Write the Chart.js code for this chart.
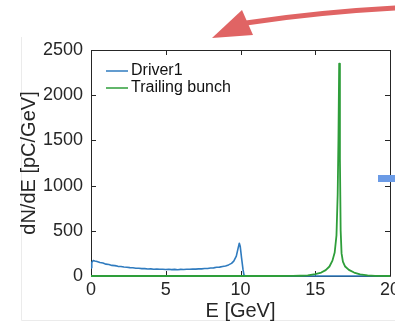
<!DOCTYPE html>
<html>
<head>
<meta charset="utf-8">
<script src="https://cdn.jsdelivr.net/npm/chart.js@4.4.1/dist/chart.umd.min.js"></script>
<style>
  html, body { margin: 0; padding: 0; background: #fff; }
  #wrap { width: 395px; height: 324px; }
</style>
</head>
<body>
<div id="wrap"><canvas id="spectrum" width="395" height="324"></canvas></div>
<script>
// Energy spectra (E in GeV, dN/dE in pC/GeV)
const driverE = [0, 0.05, 0.15, 0.25, 0.4,
  0.6, 0.8, 1.0, 1.2, 1.4, 1.6, 1.8, 2.0, 2.2, 2.4,
  2.6, 2.8, 3.0, 3.2, 3.4, 3.6, 3.8, 4.0, 4.2, 4.4,
  4.6, 4.8, 5.0, 5.2, 5.4, 5.6, 5.8, 6.0, 6.2, 6.4,
  6.6, 6.8, 7.0, 7.2, 7.4, 7.6, 7.8, 8.0, 8.2, 8.4,
  8.6, 8.8, 9.0, 9.2, 9.4,
  9.55, 9.72, 9.83, 9.92, 9.98, 10.07, 10.17, 10.24, 10.3, 20];
const driverQ = [90, 150, 172, 166, 161,
  150, 143, 131, 127, 117, 115, 107, 105, 99, 97,
  93, 91, 86, 86, 82, 82, 78, 79, 75, 76,
  74, 74, 72, 74, 71, 73, 70, 73, 72, 75,
  74, 77, 76, 79, 79, 83, 83, 89, 90, 96,
  98, 106, 111, 123, 140,
  165, 220, 300, 362, 330, 200, 70, 5, 0, 0];

const trailE = [0, 12.5, 13.5, 14, 14.5, 15, 15.4, 15.7, 15.95, 16.15,
  16.3, 16.42, 16.5, 16.55, 16.6, 16.65, 16.7, 16.76, 16.85, 17.0,
  17.25, 17.6, 18, 18.5, 19, 20];
const trailQ = [0, 0, 1, 3, 6, 20, 38, 65, 105, 170,
  260, 450, 900, 1500, 2350, 1300, 500, 250, 160, 105,
  68, 38, 18, 7, 2, 0];

const xTicks = [0, 5, 10, 15, 20];
const yTicks = [0, 500, 1000, 1500, 2000, 2500];

const seriesNames = ['Driver1', 'Trailing bunch'];
const seriesColors = ['#2f7bbf', '#2e9e3a'];

const FONT = '"Liberation Sans", Arial, Helvetica, sans-serif';
const AXIS = '#262626';

function toPoints(xs, ys) {
  return xs.map((x, i) => ({ x: x, y: ys[i] }));
}

// white page, faint frame of the source figure
const backdrop = {
  id: 'backdrop',
  beforeDraw(chart) {
    const c = chart.ctx;
    c.save();
    c.fillStyle = '#fff';
    c.fillRect(0, 0, chart.width, chart.height);
    c.strokeStyle = '#ebebeb';
    c.lineWidth = 1;
    c.beginPath();
    c.moveTo(21.5, 37);
    c.lineTo(21.5, 320.5);
    c.lineTo(chart.width, 320.5);
    c.stroke();
    c.restore();
  }
};

// MATLAB style box with inward ticks (under the curves), plus legend
const matlabBox = {
  id: 'matlabBox',
  beforeDatasetsDraw(chart) {
    const c = chart.ctx;
    const a = chart.chartArea;
    const sx = chart.scales.x, sy = chart.scales.y;
    const L = 5;
    c.save();
    c.strokeStyle = AXIS;
    c.lineWidth = 1;
    c.beginPath();
    c.rect(Math.round(a.left) + 0.5, Math.round(a.top) + 0.5,
      Math.round(a.right - a.left), Math.round(a.bottom - a.top));
    c.stroke();
    c.beginPath();
    xTicks.forEach(v => {
      const px = Math.round(sx.getPixelForValue(v)) + 0.5;
      c.moveTo(px, a.bottom); c.lineTo(px, a.bottom - L);
      c.moveTo(px, a.top); c.lineTo(px, a.top + L);
    });
    yTicks.forEach(v => {
      const py = Math.round(sy.getPixelForValue(v)) + 0.5;
      c.moveTo(a.left, py); c.lineTo(a.left + L, py);
      c.moveTo(a.right, py); c.lineTo(a.right - L, py);
    });
    c.stroke();
    c.restore();
  },
  afterDatasetsDraw(chart) {
    const c = chart.ctx;
    const a = chart.chartArea;
    c.save();
    c.font = '16px ' + FONT;
    c.textBaseline = 'middle';
    c.textAlign = 'left';
    chart.data.datasets.forEach((ds, i) => {
      const y = a.top + 21 + i * 17;
      c.strokeStyle = ds.borderColor;
      c.lineWidth = 1.5;
      c.beginPath();
      c.moveTo(a.left + 15, y);
      c.lineTo(a.left + 37, y);
      c.stroke();
      c.fillStyle = '#111';
      c.fillText(ds.label, a.left + 40, y);
    });
    c.restore();
  }
};

// arrow and bar from the neighbouring panels
const overlay = {
  id: 'overlay',
  afterDraw(chart) {
    const c = chart.ctx;
    c.save();
    c.strokeStyle = '#e06464';
    c.fillStyle = '#e06464';
    c.lineWidth = 5;
    c.beginPath();
    c.moveTo(397, 8);
    c.quadraticCurveTo(320, 12, 246, 23);
    c.stroke();
    c.beginPath();
    c.moveTo(212, 38);
    c.lineTo(242, 10);
    c.lineTo(253, 35);
    c.closePath();
    c.fill();
    c.fillStyle = '#6b9be6';
    c.fillRect(378, 175, 17, 7);
    c.restore();
  }
};

const ctx = document.getElementById('spectrum').getContext('2d');
const spectrumChart = new Chart(ctx, {
  type: 'line',
  data: {
    datasets: [{
      label: seriesNames[0],
      data: toPoints(driverE, driverQ),
      borderColor: seriesColors[0],
      borderWidth: 1.6,
      borderJoinStyle: 'round',
      pointRadius: 0,
      tension: 0,
      clip: 3,
      order: 2
    }, {
      label: seriesNames[1],
      data: toPoints(trailE, trailQ),
      borderColor: seriesColors[1],
      borderWidth: 1.8,
      borderJoinStyle: 'round',
      pointRadius: 0,
      tension: 0,
      clip: 3,
      order: 1
    }]
  },
  options: {
    responsive: false,
    animation: false,
    events: [],
    layout: { padding: { top: 50, right: 5, left: 0, bottom: 0 } },
    plugins: {
      legend: { display: false },
      tooltip: { enabled: false }
    },
    scales: {
      x: {
        type: 'linear',
        min: 0,
        max: 20,
        grid: { display: false, drawTicks: false },
        border: { display: false },
        afterBuildTicks: s => { s.ticks = xTicks.map(v => ({ value: v })); },
        afterFit: s => { s.height = 48; s.paddingLeft = 0; s.paddingRight = 0; },
        ticks: {
          color: AXIS,
          padding: 3,
          maxRotation: 0,
          callback: v => String(v),
          font: { family: FONT, size: 18 }
        },
        title: {
          display: true,
          text: 'E [GeV]',
          color: AXIS,
          padding: { top: 0, bottom: 1 },
          font: { family: FONT, size: 20 }
        }
      },
      y: {
        min: 0,
        max: 2500,
        grid: { display: false, drawTicks: false },
        border: { display: false },
        afterBuildTicks: s => { s.ticks = yTicks.map(v => ({ value: v })); },
        afterFit: s => { s.width = 91; s.paddingTop = 0; s.paddingBottom = 0; },
        ticks: {
          color: AXIS,
          padding: 8,
          callback: v => String(v),
          font: { family: FONT, size: 18 }
        },
        title: {
          display: true,
          text: 'dN/dE [pC/GeV]',
          color: AXIS,
          padding: { top: 17, bottom: 0 },
          font: { family: FONT, size: 20 }
        }
      }
    }
  },
  plugins: [backdrop, matlabBox, overlay]
});
</script>
</body>
</html>
